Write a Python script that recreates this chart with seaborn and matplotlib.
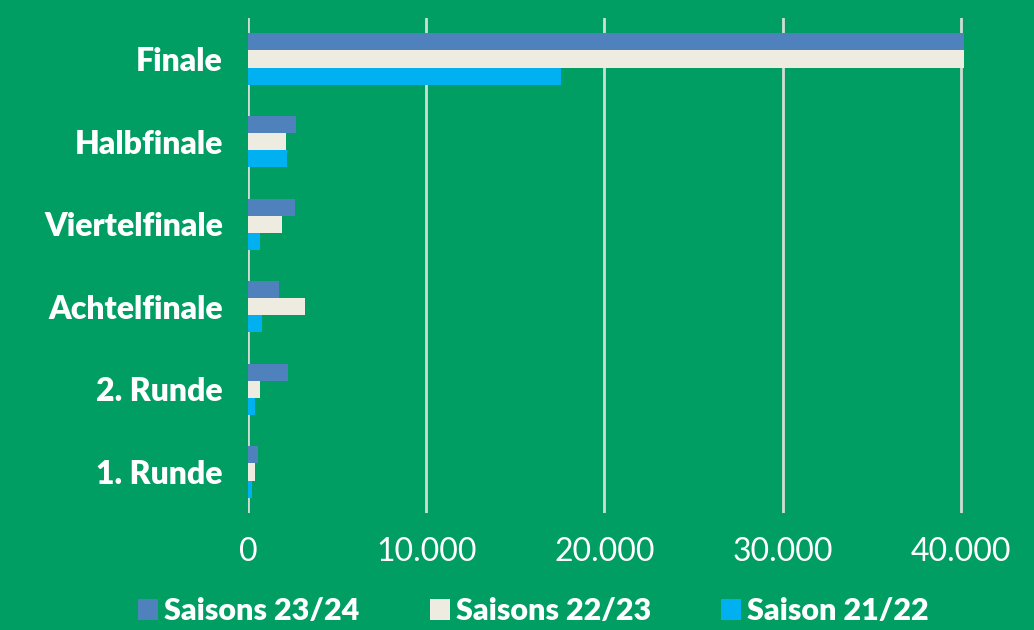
import matplotlib
matplotlib.use("Agg")
import matplotlib.pyplot as plt
import seaborn as sns
import pandas as pd
from matplotlib.patches import Patch

categories = ["Finale", "Halbfinale", "Viertelfinale", "Achtelfinale", "2. Runde", "1. Runde"]
series = ["Saisons 23/24", "Saisons 22/23", "Saison 21/22"]
s2324 = [40170, 2700, 2640, 1720, 2260, 560]
s2223 = [40170, 2150, 1890, 3200, 680, 400]
s2122 = [17550, 2180, 650, 770, 380, 200]
xticks = [0, 10000, 20000, 30000, 40000]
xticklabels = ["0", "10.000", "20.000", "30.000", "40.000"]

colors = ["#4F81BD", "#EEEBE0", "#00B0F0"]
bg = "#009E63"

rows = []
for s, vals in zip(series, [s2324, s2223, s2122]):
    for c, v in zip(categories, vals):
        rows.append({"Runde": c, "Saison": s, "Wert": v})
df = pd.DataFrame(rows)

sns.set_style("white")
plt.rcParams["font.family"] = ["Lato", "DejaVu Sans"]

fig = plt.figure(figsize=(10.34, 6.3), dpi=100, facecolor=bg)
ax = fig.add_axes([0.2398, 0.1852, 0.7602, 0.7867])
ax.set_facecolor(bg)

sns.barplot(data=df, y="Runde", x="Wert", hue="Saison", order=categories,
            hue_order=series, palette=colors, orient="h", width=0.62,
            saturation=1, ax=ax, legend=False, linewidth=0)

ax.set_xlim(0, 44100)
ax.set_ylim(len(categories) - 0.5, -0.5)
ax.set_xticks(xticks)
ax.set_xticklabels(xticklabels)
ax.set_xlabel("")
ax.set_ylabel("")
ax.grid(axis="x", color="#D0DDD5", linewidth=2)
ax.set_axisbelow(True)
for sp in ax.spines.values():
    sp.set_visible(False)
ax.tick_params(axis="both", length=0)
ax.tick_params(axis="x", pad=17, labelsize=23, labelcolor="white")
ax.tick_params(axis="y", pad=18, labelsize=23, labelcolor="white")
for lbl in ax.get_yticklabels():
    lbl.set_fontweight("heavy")
for lbl in ax.get_xticklabels():
    lbl.set_fontweight("normal")

handles = [Patch(facecolor=c, edgecolor="none", label=s) for c, s in zip(colors, series)]
leg = fig.legend(handles=handles, loc="center", bbox_to_anchor=(0.516, 0.030), ncol=3,
                 frameon=False, handlelength=0.65, handleheight=0.65, handletextpad=0.2,
                 columnspacing=2.3, prop={"weight": "heavy", "size": 22})
for t in leg.get_texts():
    t.set_color("white")

fig.savefig("out.png", dpi=100, facecolor=bg)
